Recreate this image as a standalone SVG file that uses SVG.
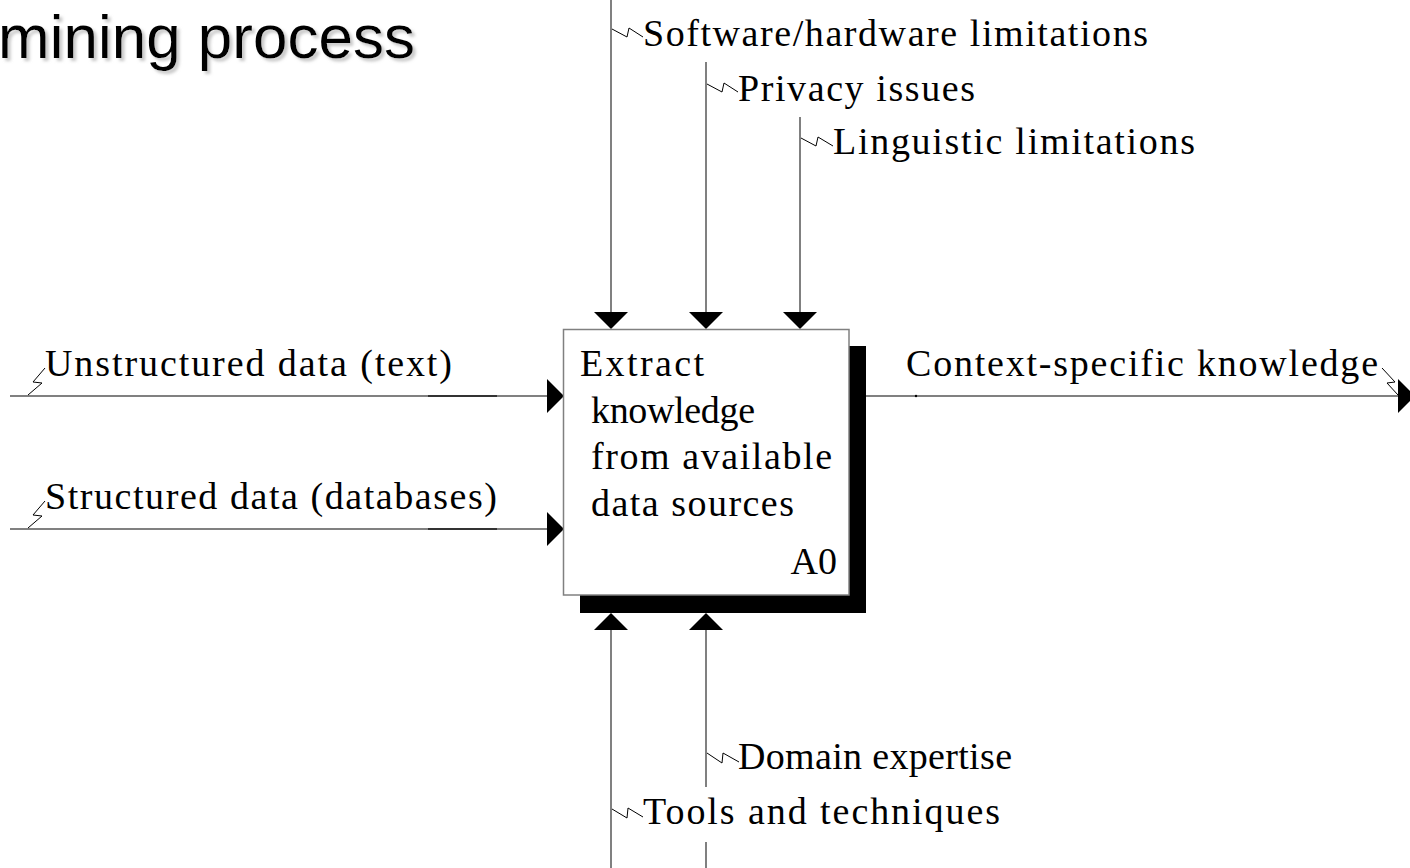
<svg xmlns="http://www.w3.org/2000/svg" width="1410" height="868" viewBox="0 0 1410 868">
<defs>
<style>
.lbl{font-family:"Liberation Serif","Times New Roman",serif;font-size:38px;fill:#000}
.ln{stroke:#808080;stroke-width:2;fill:none}
.sq{stroke:#000;stroke-width:1;fill:none}
.ah{fill:#000}
.title{font-family:"Liberation Sans",Arial,sans-serif;font-size:62px;fill:#000}
</style>
<filter id="sh" x="-10%" y="-30%" width="120%" height="160%">
<feGaussianBlur in="SourceAlpha" stdDeviation="1.5" result="b"/>
<feOffset in="b" dx="3" dy="3" result="o"/>
<feColorMatrix in="o" type="matrix" values="0 0 0 0 0.5  0 0 0 0 0.5  0 0 0 0 0.5  0 0 0 0.8 0" result="c"/>
<feMerge><feMergeNode in="c"/><feMergeNode in="SourceGraphic"/></feMerge>
</filter>
</defs>
<rect width="1410" height="868" fill="#fff"/>
<g id="title">
<text class="title" x="-2" y="58" filter="url(#sh)">mining process</text>
</g>
<g id="connectors">
<line class="ln" x1="611" y1="0" x2="611" y2="313"/>
<line class="ln" x1="706" y1="62" x2="706" y2="313"/>
<line class="ln" x1="800" y1="117" x2="800" y2="313"/>
<polygon class="ah" points="594,312 628,312 611,329"/>
<polygon class="ah" points="689,312 723,312 706,329"/>
<polygon class="ah" points="783,312 817,312 800,329"/>
<line class="ln" x1="10" y1="396" x2="548" y2="396"/>
<line x1="428" y1="396" x2="497" y2="396" stroke="#333" stroke-width="2"/>
<polygon class="ah" points="547,379 547,413 564,396"/>
<line class="ln" x1="10" y1="529" x2="548" y2="529"/>
<line x1="428" y1="529" x2="497" y2="529" stroke="#333" stroke-width="2"/>
<polygon class="ah" points="547,512 547,546 564,529"/>
<line class="ln" x1="866" y1="396" x2="1400" y2="396"/>
<circle cx="916" cy="396" r="1.2" fill="#000"/>
<polygon class="ah" points="1398,379 1398,413 1415,396"/>
<line class="ln" x1="611" y1="629" x2="611" y2="868"/>
<line class="ln" x1="706" y1="629" x2="706" y2="787"/>
<line class="ln" x1="706" y1="842" x2="706" y2="868"/>
<polygon class="ah" points="594,630 628,630 611,613"/>
<polygon class="ah" points="689,630 723,630 706,613"/>
<polyline class="sq" points="612,29 627,37 629,28 643,37"/>
<polyline class="sq" points="707,84 722,92 724,83 738,92"/>
<polyline class="sq" points="801,138 816,146 818,137 833,146"/>
<polyline class="sq" points="28,395 42,383 33,382 45,368"/>
<polyline class="sq" points="28,528 42,516 33,515 45,501"/>
<polyline class="sq" points="1382,368 1395,382 1387,383 1398,395"/>
<polyline class="sq" points="707,753 722,763 723,753 739,762"/>
<polyline class="sq" points="612,809 627,818 628,808 643,817"/>
</g>
<g id="node-A0">
<rect x="849" y="346" width="17" height="267" fill="#000"/>
<rect x="580" y="595" width="286" height="18" fill="#000"/>
<rect x="563.5" y="329.5" width="285.5" height="265.5" fill="#fff" stroke="#808080" stroke-width="1.5"/>
<text class="lbl" x="580" y="376" textLength="124" lengthAdjust="spacing">Extract</text>
<text class="lbl" x="591" y="423" textLength="164" lengthAdjust="spacing">knowledge</text>
<text class="lbl" x="591" y="469" textLength="241" lengthAdjust="spacing">from available</text>
<text class="lbl" x="591" y="516" textLength="203" lengthAdjust="spacing">data sources</text>
<text class="lbl" x="837" y="574" text-anchor="end">A0</text>
</g>
<g id="labels">
<text class="lbl" x="643" y="46" textLength="505" lengthAdjust="spacing">Software/hardware limitations</text>
<text class="lbl" x="738" y="101" textLength="237" lengthAdjust="spacing">Privacy issues</text>
<text class="lbl" x="833" y="154" textLength="362" lengthAdjust="spacing">Linguistic limitations</text>
<text class="lbl" x="45" y="376" textLength="407" lengthAdjust="spacing">Unstructured data (text)</text>
<text class="lbl" x="45" y="509" textLength="452" lengthAdjust="spacing">Structured data (databases)</text>
<text class="lbl" x="906" y="376" textLength="472" lengthAdjust="spacing">Context-specific knowledge</text>
<text class="lbl" x="738" y="769" textLength="274" lengthAdjust="spacing">Domain expertise</text>
<text class="lbl" x="643" y="824" textLength="357" lengthAdjust="spacing">Tools and techniques</text>
</g>
</svg>
